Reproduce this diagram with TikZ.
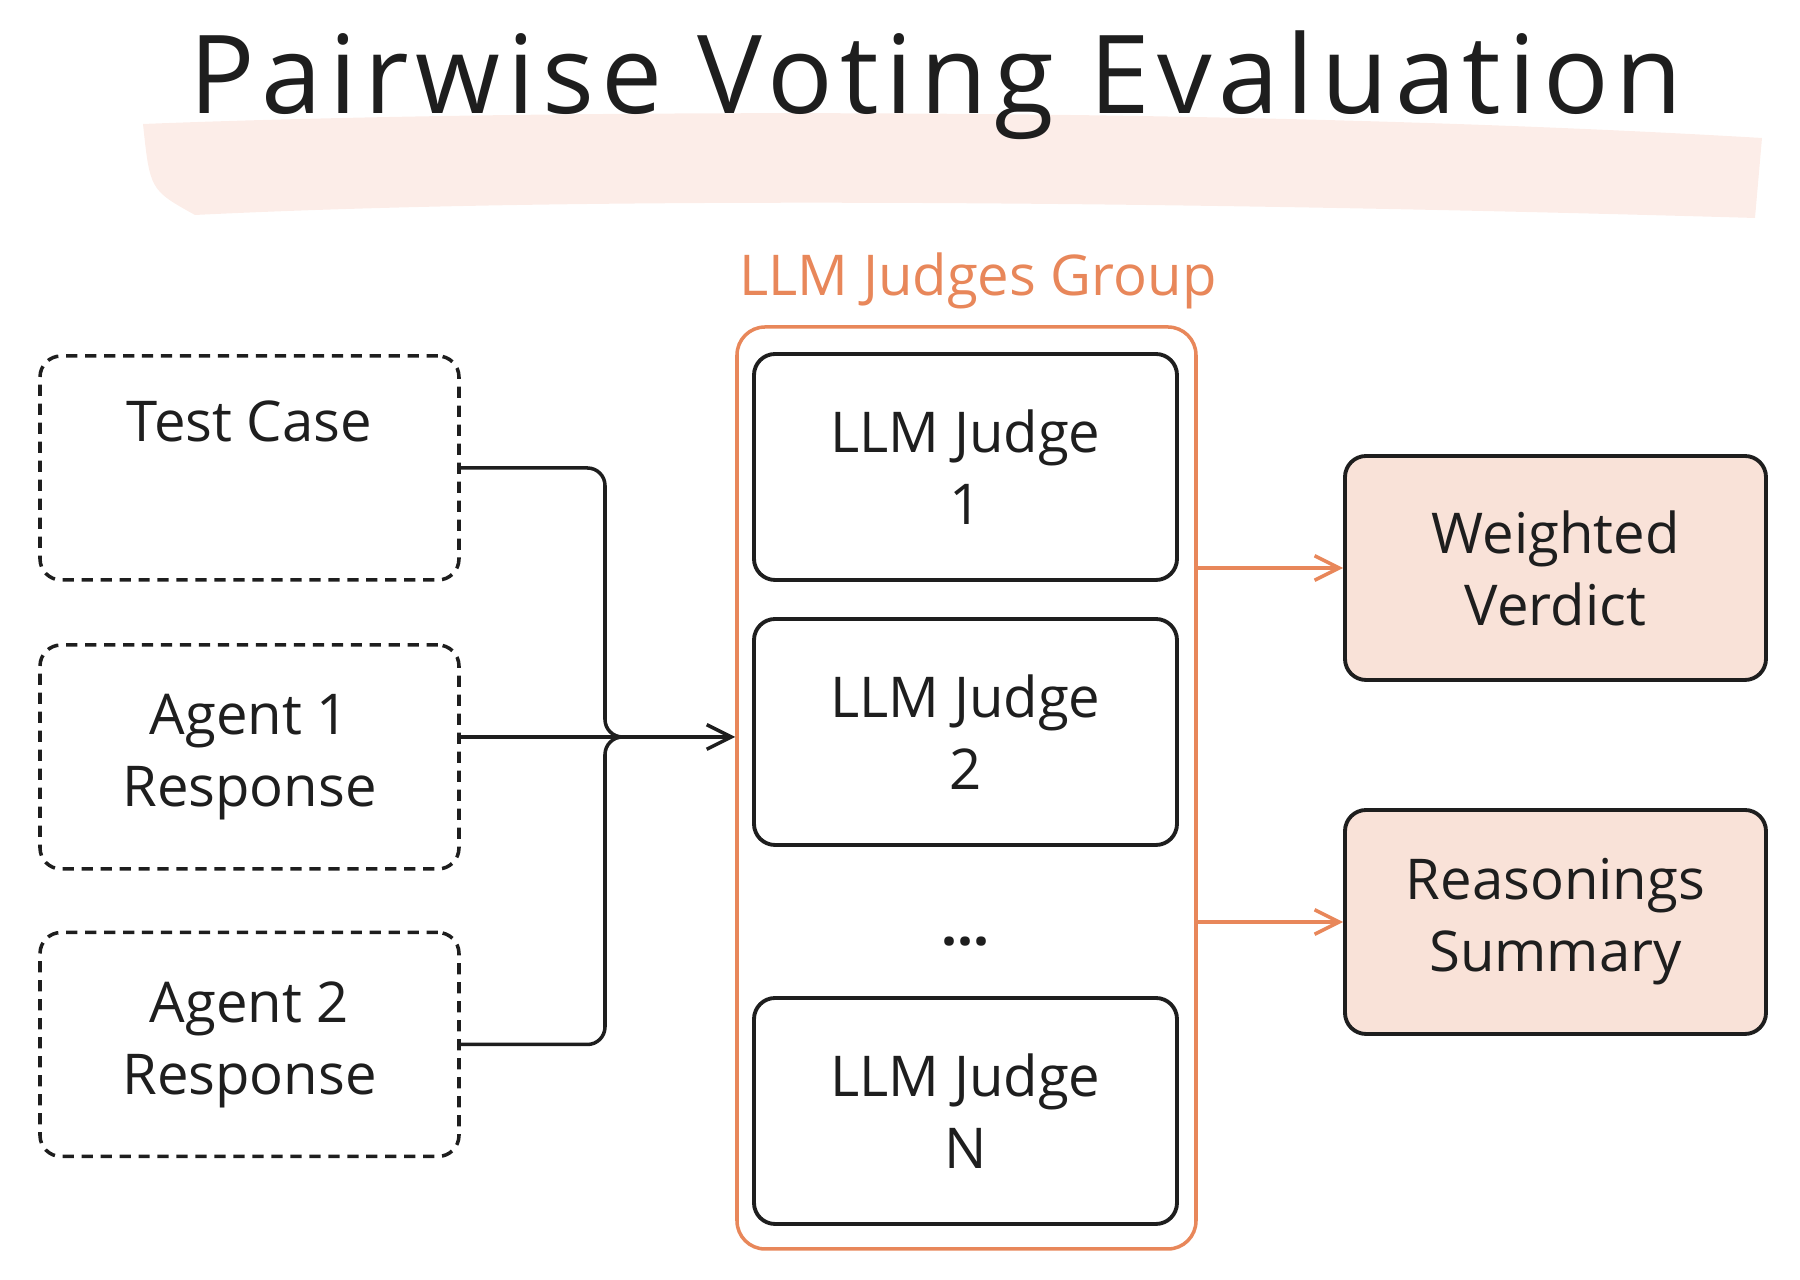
\documentclass[tikz,border=0pt]{standalone}
\usepackage{fontspec}
\setmainfont{Open Sans}
\usepackage{tikz}
\usetikzlibrary{arrows.meta}
\definecolor{inkc}{HTML}{1E1E1E}
\definecolor{groupc}{HTML}{E8875A}
\definecolor{outc}{HTML}{F9E2D8}
\definecolor{brushc}{HTML}{FCEDE8}

\begin{document}
\begin{tikzpicture}[
		every node/.style={font=\fontsize{16}{20.5}\selectfont, text=inkc, align=center},
		inbox/.style={draw=inkc, line width=1pt, dash pattern=on 3.2pt off 2.2pt, rounded corners=6pt, minimum width=4.19cm, minimum height=2.24cm},
		judgebox/.style={draw=inkc, line width=1.1pt, rounded corners=6pt, fill=white, minimum width=4.23cm, minimum height=2.26cm},
		outbox/.style={judgebox, fill=outc, minimum width=4.21cm, minimum height=2.24cm},
		wire/.style={draw=inkc, line width=1pt, rounded corners=5pt},
		outwire/.style={draw=groupc, line width=1pt, -{Straight Barb[length=7pt,width=7pt]}},
	]
		\useasboundingbox (0,0) rectangle (18,-12.8);
		
		% brush stroke behind the title
		\fill[brushc] (1.43,-1.24) .. controls (5,-1.10) and (12,-1.05) .. (17.62,-1.38) -- (17.55,-2.18) .. controls (12,-2.02) and (6,-1.95) .. (1.95,-2.15) .. controls (1.5,-1.9) .. (1.43,-1.24) -- cycle;
		\node[font=\fontsize{31}{36}\selectfont\addfontfeatures{LetterSpace=6.5}, anchor=base] (title) at (9.36,-1.14) {Pairwise Voting Evaluation};
		
		% inputs
		\node[inbox] (tc) at (2.495,-4.68) {Test Case\\ \strut};
		\node[inbox] (a1) at (2.495,-7.57) {Agent 1\\Response};
		\node[inbox] (a2) at (2.495,-10.445) {Agent 2\\Response};
		
		% judges group
		\node[draw=groupc, line width=1pt, rounded corners=8pt, minimum width=4.59cm, minimum height=9.22cm] (grp) at (9.665,-7.88) {};
		\node[text=groupc, anchor=base] (grplabel) at (9.78,-2.96) {LLM Judges Group};
		\foreach \name/\num/\y in {j1/1/4.67, j2/2/7.32, jN/N/11.11} {
			\node[judgebox] (\name) at (9.655,-\y) {LLM Judge\\\num};
		}
		\node (dots) at (9.655,-9.42) {\bfseries ...};
		
		% outputs
		\node[outbox] (wv) at (15.555,-5.68) {Weighted\\Verdict};
		\node[outbox] (rs) at (15.555,-9.22) {Reasonings\\Summary};
		
		% connectors
		\coordinate (jn) at (6.05,-7.37);
		\draw[wire] (tc.east) -- (tc.east -| jn) -- (jn) -- ++(0.4,0);
		\draw[wire] (a2.east) -- (a2.east -| jn) -- (jn) -- ++(0.4,0);
		\draw[wire, -{Straight Barb[length=7pt,width=7pt]}] (a1.east |- jn) -- (grp.west |- jn);
		\draw[outwire] (grp.east |- wv) -- (wv.west);
		\draw[outwire] (grp.east |- rs) -- (rs.west);
	\end{tikzpicture}
\end{document}
